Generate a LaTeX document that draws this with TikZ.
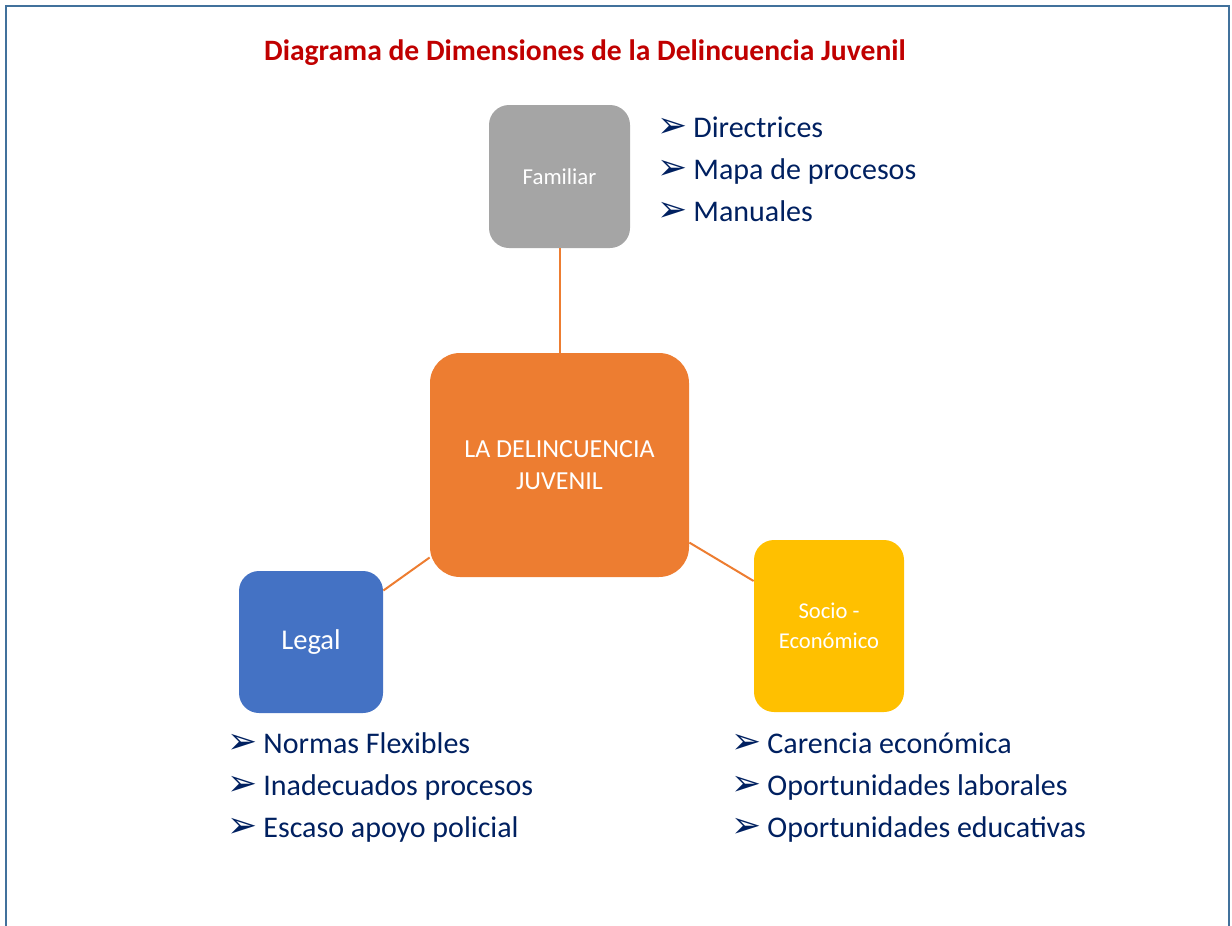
\documentclass[tikz,border=0pt]{standalone}
\usepackage{fontspec}
\setmainfont{Carlito}
\newfontfamily\symfont{DejaVu Sans}
\usetikzlibrary{positioning}

\definecolor{famgray}{RGB}{165,165,165}
\definecolor{delorange}{RGB}{237,125,49}
\definecolor{legblue}{RGB}{68,114,196}
\definecolor{socgold}{RGB}{255,192,0}
\definecolor{listnavy}{RGB}{0,32,96}
\definecolor{titlered}{RGB}{192,0,0}
\definecolor{frameblue}{RGB}{65,113,156}

\newcommand{\bul}{\makebox[18pt][l]{{\symfont\fontsize{18}{21}\selectfont\char"27A2}}}

\begin{document}
\begin{tikzpicture}[x=0.5pt, y=-0.5pt,
            dimbox/.style={rounded corners=10pt, text=white, align=center, inner sep=0pt},
            link/.style={draw=delorange, line width=1pt},
            items/.style={text=listnavy, align=left, anchor=base west, inner sep=0pt,
                font=\fontsize{15}{21}\selectfont}]

            \clip (0,0) rectangle (1232,926);
            \draw[frameblue, line width=1pt] (6,6) rectangle (1229,990);

            \node[anchor=base, text=titlered, font=\fontsize{14.8}{18}\selectfont\bfseries] (title) at (585,61)
                {Diagrama de Dimensiones de la Delincuencia Juvenil};

            \node[dimbox, fill=delorange, rounded corners=15pt, minimum width=129.5pt, minimum height=112pt,
                font=\fontsize{13}{16}\selectfont] (centro) at (559.5,465) {LA DELINCUENCIA\\JUVENIL};
            \node[dimbox, fill=famgray, minimum width=70.5pt, minimum height=71.5pt,
                font=\fontsize{11.4}{14}\selectfont] (familiar) at (559.5,176.5) {Familiar};
            \node[dimbox, fill=legblue, minimum width=72pt, minimum height=71pt,
                font=\fontsize{14.3}{17}\selectfont] (legal) at (311,642) {Legal};
            \node[dimbox, fill=socgold, minimum width=75pt, minimum height=86pt,
                font=\fontsize{11.3}{15}\selectfont] (socio) at (829,626) {Socio -\\Económico};

            \draw[link] (familiar) -- (centro);
            \draw[link] (centro) -- (legal);
            \draw[link] (centro) -- (socio);

            \node[items] (famlist) at (657,221)
                {\bul Directrices\\ \bul Mapa de procesos\\ \bul Manuales};
            \node[items] (leglist) at (227,837)
                {\bul Normas Flexibles\\ \bul Inadecuados procesos\\ \bul Escaso apoyo policial};
            \node[items] (soclist) at (731,837)
                {\bul Carencia económica\\ \bul Oportunidades laborales\\ \bul Oportunidades educativas};
\end{tikzpicture}
\end{document}
